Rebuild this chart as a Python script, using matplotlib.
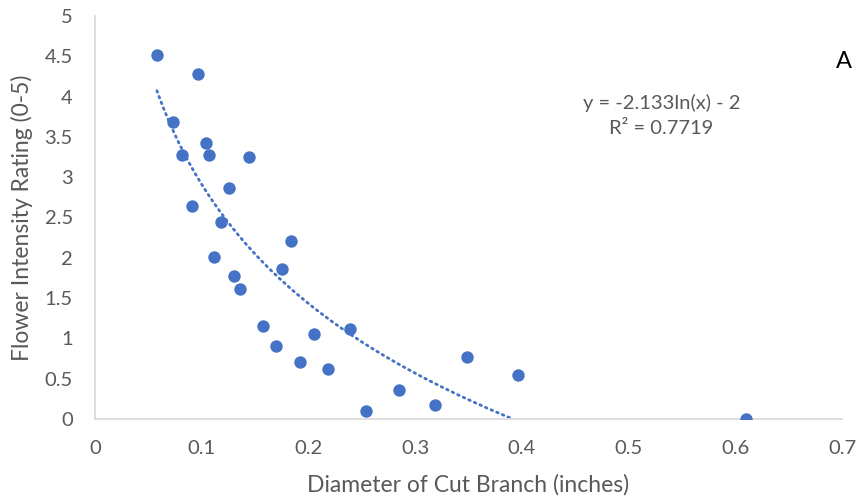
import numpy as np
import matplotlib
matplotlib.use("Agg")
import matplotlib.pyplot as plt

# Data
diameter = [0.058, 0.0965, 0.073, 0.0815, 0.104, 0.1065, 0.1446, 0.1256, 0.0906,
            0.1184, 0.1834, 0.1112, 0.1306, 0.1359, 0.175, 0.1571, 0.2053, 0.239,
            0.1696, 0.192, 0.2187, 0.254, 0.2846, 0.3187, 0.3483, 0.3967, 0.6098]
rating = [4.51, 4.28, 3.68, 3.27, 3.42, 3.27, 3.25, 2.87, 2.64,
          2.45, 2.21, 2.01, 1.78, 1.61, 1.86, 1.16, 1.06, 1.12,
          0.91, 0.71, 0.62, 0.10, 0.36, 0.17, 0.77, 0.54, 0.0]

# Logarithmic trendline coefficients (from the chart's label)
coef_a = -2.133
coef_b = -2.0
r_squared = 0.7719

x_ticks = [0, 0.1, 0.2, 0.3, 0.4, 0.5, 0.6, 0.7]
x_tick_labels = ["0", "0.1", "0.2", "0.3", "0.4", "0.5", "0.6", "0.7"]
y_ticks = [0, 0.5, 1, 1.5, 2, 2.5, 3, 3.5, 4, 4.5, 5]
y_tick_labels = ["0", "0.5", "1", "1.5", "2", "2.5", "3", "3.5", "4", "4.5", "5"]

plt.rcParams['font.family'] = ['Lato', 'DejaVu Sans']

blue = "#4472C4"
gray_text = "#595959"

fig = plt.figure(figsize=(8.61, 5.0), dpi=100)
ax = fig.add_axes([95/861, 81/500, (842-95)/861, (419-16)/500])

ax.scatter(diameter, rating, s=80, color=blue, zorder=3, linewidths=0)

x_min = min(diameter)
x_max = np.exp(-coef_b / coef_a)
xs = np.linspace(x_min, x_max, 300)
ys = coef_a * np.log(xs) + coef_b
ax.plot(xs, ys, linestyle=(0, (0.6, 1.6)), color=blue, linewidth=2.0,
        dash_capstyle='round', zorder=2)

ax.set_xlim(0, 0.7)
ax.set_ylim(0, 5)
ax.set_xticks(x_ticks)
ax.set_xticklabels(x_tick_labels)
ax.set_yticks(y_ticks)
ax.set_yticklabels(y_tick_labels)
ax.tick_params(axis='both', length=0, labelsize=14.5, labelcolor=gray_text)
ax.tick_params(axis='x', pad=15)
ax.tick_params(axis='y', pad=16)

for s in ['top', 'right']:
    ax.spines[s].set_visible(False)
for s in ['left', 'bottom']:
    ax.spines[s].set_color("#D9D9D9")
    ax.spines[s].set_linewidth(1.2)

fig.text(468/861, 1 - 485/500, "Diameter of Cut Branch (inches)", ha='center', va='center',
         fontsize=16.5, color=gray_text)
fig.text(22/861, 1 - 218/500, "Flower Intensity Rating (0-5)", ha='center', va='center',
         rotation=90, fontsize=16.5, color=gray_text)

fig.text(662/861, 1 - 103/500, "y = -2.133ln(x) - 2", ha='center', va='center',
         fontsize=14.5, color=gray_text)
fig.text(661/861, 1 - 128/500, "R² = 0.7719", ha='center', va='center',
         fontsize=14.5, color=gray_text)
fig.text(844/861, 1 - 62/500, "A", ha='center', va='center', fontsize=17, color="black")

fig.savefig("out.png", dpi=100)
